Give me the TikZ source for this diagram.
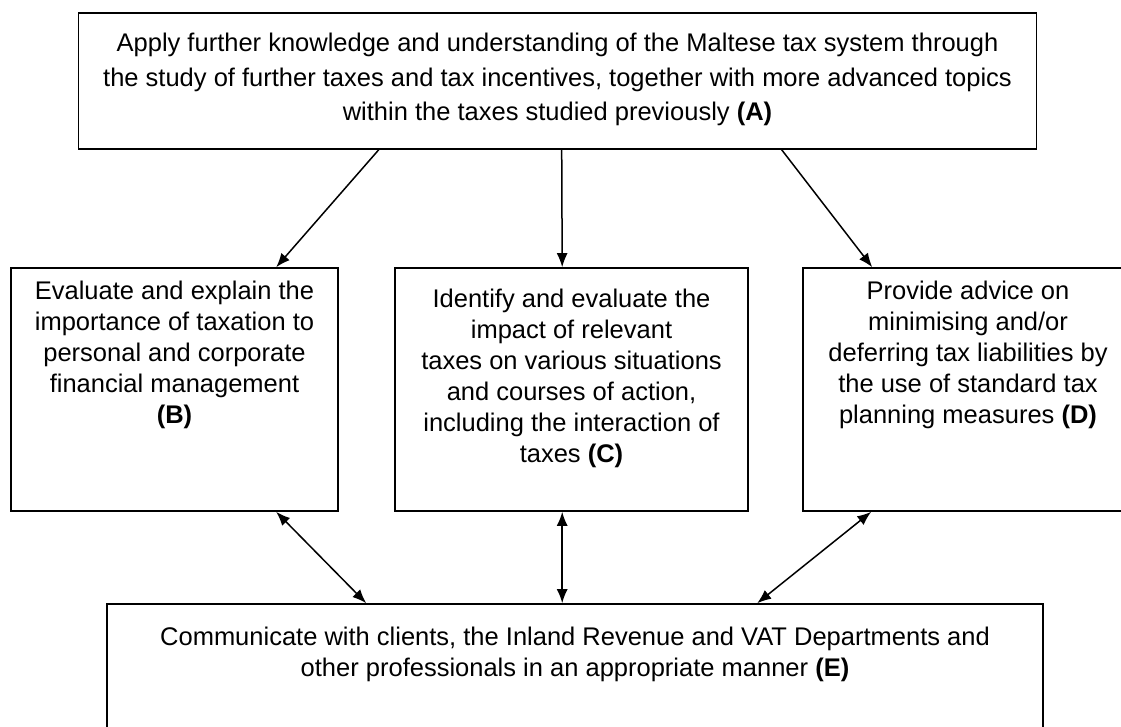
\documentclass[tikz,border=0pt]{standalone}
\usepackage{fontspec}
\setmainfont{Liberation Sans}
\usetikzlibrary{arrows.meta}
\tikzset{
  box/.style={draw, line width=1.6pt, inner sep=0pt},
  boxtext/.style={anchor=north, align=center, inner sep=0pt, font=\fontsize{25.5}{31}\selectfont},
  widetext/.style={boxtext, font=\fontsize{25.5}{34.5}\selectfont},
  link/.style={line width=1.5pt, -{Latex[length=14pt,width=11pt]}},
  twoway/.style={line width=1.5pt, {Latex[length=14pt,width=11pt]}-{Latex[length=14pt,width=11pt]}}
}

\begin{document}
\begin{tikzpicture}[x=1pt,y=-1pt]
			%%%%% START %%%%%
			\useasboundingbox (0,0) rectangle (1121,727);
			\clip (0,0) rectangle (1121,727);
			
			\node[box, minimum width=958pt, minimum height=136pt] (a) at (557.5,81) {};
			\node[box, minimum width=327pt, minimum height=243pt] (b) at (174.5,389.5) {};
			\node[box, minimum width=353pt, minimum height=243pt] (c) at (571.5,389.5) {};
			\node[box, minimum width=330pt, minimum height=243pt] (d) at (968,389.5) {};
			\node[box, minimum width=936pt, minimum height=150pt] (e) at (575,679) {};
			
			\node[widetext] (ta) at ([yshift=-21pt]a.north) {Apply further knowledge and understanding of the Maltese tax system through\\
				the study of further taxes and tax incentives, together with more advanced topics\\
				within the taxes studied previously \textbf{(A)}};
			\node[boxtext] (tb) at ([yshift=-14pt]b.north) {Evaluate and explain the\\ importance of taxation to\\ personal and corporate\\ financial management\\ \textbf{(B)}};
			\node[boxtext] (tc) at ([yshift=-22pt]c.north) {Identify and evaluate the\\ impact of relevant\\ taxes on various situations\\ and courses of action,\\ including the interaction of\\ taxes \textbf{(C)}};
			\node[boxtext] (td) at ([yshift=-14pt]d.north) {Provide advice on\\ minimising and/or\\ deferring tax liabilities by\\ the use of standard tax\\ planning measures \textbf{(D)}};
			\node[boxtext] (te) at ([yshift=-24pt]e.north) {Communicate with clients, the Inland Revenue and VAT Departments and\\ other professionals in an appropriate manner \textbf{(E)}};
			
			\draw[link] ([xshift=301pt]a.south west) -- ([xshift=266pt]b.north west);
			\draw[link] ([xshift=484pt]a.south west) -- ([xshift=168pt]c.north west);
			\draw[link] ([xshift=704pt]a.south west) -- ([xshift=70pt]d.north west);
			
			\draw[twoway] ([xshift=266pt]b.south west) -- ([xshift=260pt]e.north west);
			\draw[twoway] ([xshift=168pt]c.south west) -- ([xshift=456pt]e.north west);
			\draw[twoway] ([xshift=69pt]d.south west) -- ([xshift=651pt]e.north west);
			
			%%%%% END %%%%%
\end{tikzpicture}
\end{document}
